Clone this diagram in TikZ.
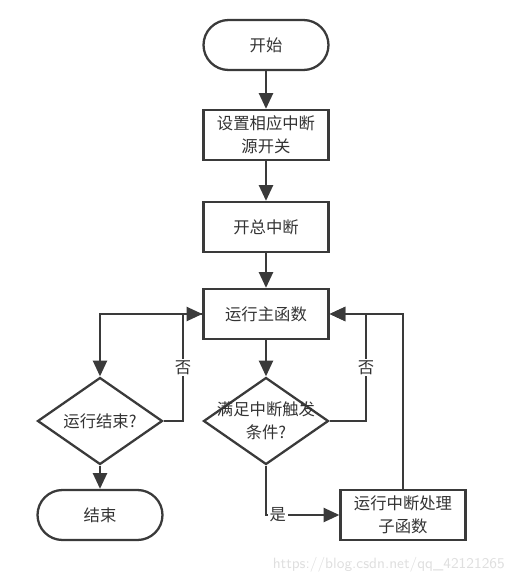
\documentclass[tikz,border=0pt]{standalone}
\usepackage{fontspec}
\newfontfamily\cjk{Noto Sans CJK SC}
\usetikzlibrary{shapes.geometric,arrows.meta}
\definecolor{linegray}{HTML}{3A3A3A}
\definecolor{textgray}{HTML}{333333}

\tikzset{
    box/.style={draw=linegray, line width=1.3pt, minimum width=2.5cm, minimum height=1cm,
        align=center, text=textgray, font=\cjk\fontsize{9.3}{13}\selectfont},
    term/.style={box, rounded corners=0.5cm},
    decision/.style={draw=linegray, line width=1.3pt, diamond, minimum width=2.5cm,
        minimum height=1.74cm, inner sep=0pt},
    flow/.style={draw=linegray, line width=1.3pt, -{Triangle[length=9pt,width=8pt]}},
    tag/.style={fill=white, inner sep=1pt, text=textgray, font=\cjk\fontsize{9.3}{11}\selectfont}
}

\begin{document}
\begin{tikzpicture}[x=0.02cm, y=-0.02cm]
    \useasboundingbox (0,0) rectangle (519,582);
    \node[term] (start) at (266,45) {开始};
    \node[box] (setsrc) at (266,135) {设置相应中断\\源开关};
    \node[box] (enable) at (266,227) {开总中断};
    \node[box] (mainfn) at (266,314) {运行主函数};
    \node[decision, label={[align=center, text=textgray, font=\cjk\fontsize{9.3}{13}\selectfont]center:满足中断触发\\条件?}] (trig) at (266,421) {};
    \node[decision, label={[text=textgray, font=\cjk\fontsize{9.3}{13}\selectfont]center:运行结束?}] (done) at (100,421) {};
    \node[term] (finish) at (100,515) {结束};
    \node[box] (isr) at (403,515) {运行中断处理\\子函数};
    \coordinate (lback) at (183,314);
    \coordinate (rback) at (366,314);

    \draw[flow] (start) -- (setsrc);
    \draw[flow] (setsrc) -- (enable);
    \draw[flow] (enable) -- (mainfn);
    \draw[flow] (mainfn) -- (trig);
    \draw[flow] (mainfn.west) -| (done.north);
    \draw[flow] (done.east) -- (done.east -| lback) -- node[tag]{否} (lback) -- (mainfn.west);
    \draw[flow] (done) -- (finish);
    \draw[flow] (trig.east) -- (trig.east -| rback) -- node[tag]{否} (rback) -- (mainfn.east);
    \draw[flow] (isr.north) |- (mainfn.east);
    \draw[flow] (trig.south) |- node[tag, pos=0.58]{是} (isr.west);

    \node[anchor=east, text=gray!25, font=\sffamily\fontsize{8.5}{10}\selectfont] (mark) at (511,565) {https://blog.csdn.net/qq\_42121265};
\end{tikzpicture}
\end{document}
